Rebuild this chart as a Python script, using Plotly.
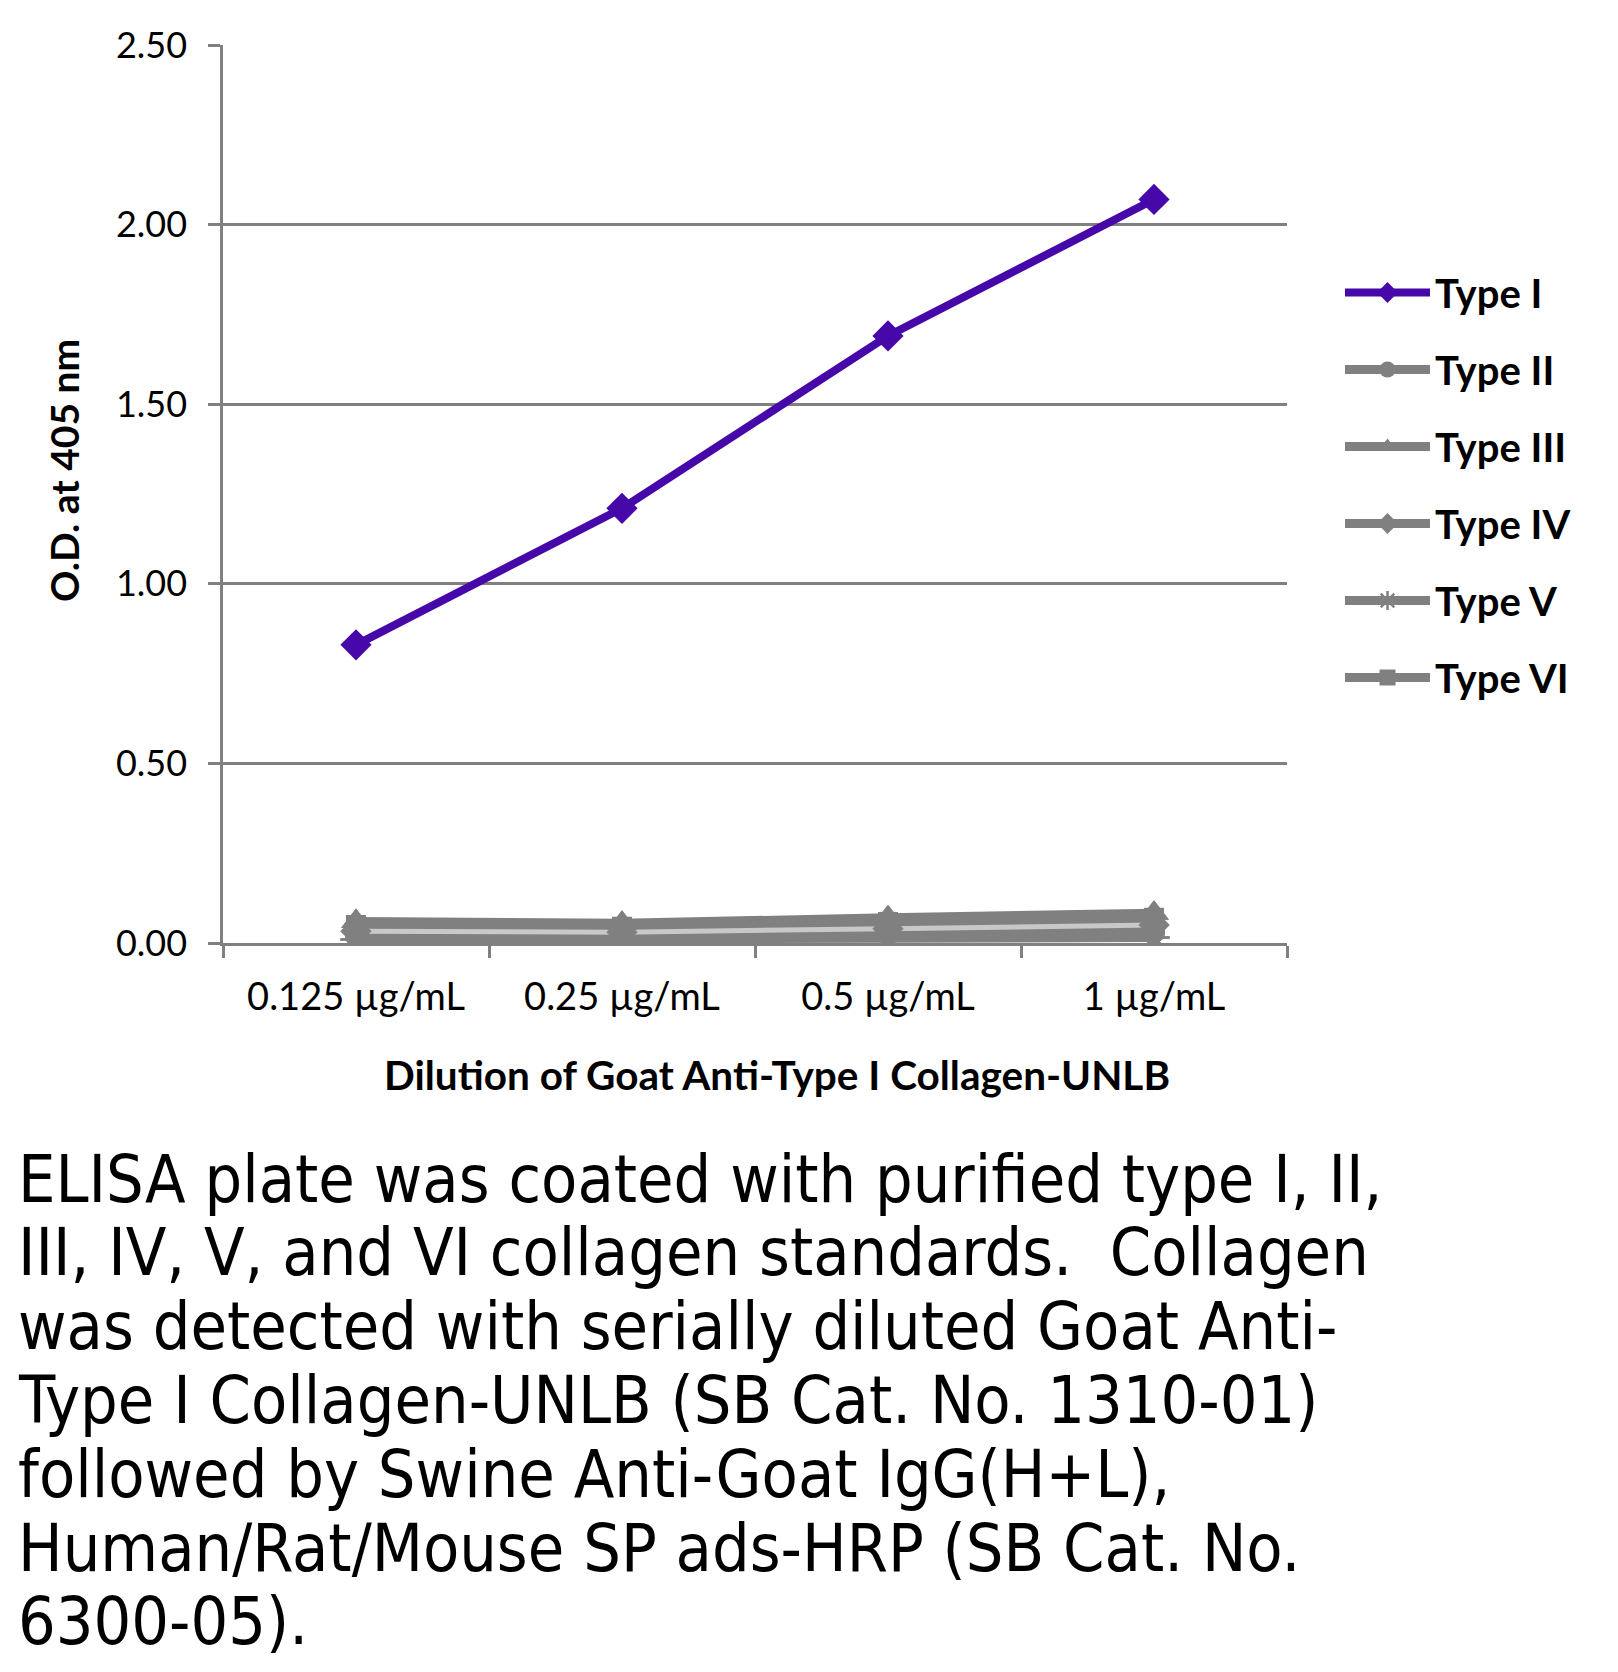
import plotly.graph_objects as go

categories = ["0.125 µg/mL", "0.25 µg/mL", "0.5 µg/mL", "1 µg/mL"]
type_i = [0.83, 1.21, 1.69, 2.07]
type_ii = [0.02, 0.02, 0.025, 0.03]
type_iii = [0.06, 0.055, 0.07, 0.083]
type_iv = [0.033, 0.03, 0.04, 0.05]
type_v = [0.01, 0.01, 0.012, 0.015]
type_vi = [0.05, 0.045, 0.058, 0.07]
y_ticks = [0.0, 0.5, 1.0, 1.5, 2.0, 2.5]

caption_lines = [
    "ELISA plate was coated with purified type I, II,",
    "III, IV, V, and VI collagen standards.  Collagen",
    "was detected with serially diluted Goat Anti-",
    "Type I Collagen-UNLB (SB Cat. No. 1310-01)",
    "followed by Swine Anti-Goat IgG(H+L),",
    "Human/Rat/Mouse SP ads-HRP (SB Cat. No.",
    "6300-05).",
]

W, H = 1618, 1672
L, R, T, B = 223, 1287, 45, 943
PW, PH = R - L, B - T

def px(x):
    return (x - L) / PW

def py(y):
    return (B - y) / PH

PURPLE = "#4608A8"
GRAY = "#808080"

series = [
    ("Type I", type_i, PURPLE, "diamond", 24),
    ("Type II", type_ii, GRAY, "circle", 22),
    ("Type III", type_iii, GRAY, "triangle-up", 26),
    ("Type IV", type_iv, GRAY, "diamond", 24),
    ("Type V", type_v, GRAY, "asterisk-open", 26),
    ("Type VI", type_vi, GRAY, "square", 20),
]

def marker(col, sym, sz):
    return dict(symbol=sym, size=sz, color=col,
                line=dict(color=col, width=2.5 if sym == "asterisk-open" else 0))

fig = go.Figure()

# gray series (lines + markers, legend entries)
for i, (name, vals, col, sym, sz) in enumerate(series[1:], start=1):
    fig.add_trace(go.Scatter(
        x=categories, y=vals, name=name, mode="lines+markers",
        line=dict(color=col, width=9),
        marker=marker(col, sym, sz),
        legendgroup=name, legendrank=i + 1,
    ))

# lighter highlight stroke inside the gray band
fig.add_trace(go.Scatter(
    x=categories, y=type_iv, mode="lines", showlegend=False, hoverinfo="skip",
    line=dict(color="#C8C8C8", width=5),
))

# gray markers re-drawn on top of the highlight
for name, vals, col, sym, sz in series[1:]:
    fig.add_trace(go.Scatter(
        x=categories, y=vals, mode="markers", showlegend=False, hoverinfo="skip",
        marker=marker(col, sym, sz), legendgroup=name,
    ))

# Type I on top
name, vals, col, sym, sz = series[0]
fig.add_trace(go.Scatter(
    x=categories, y=vals, name=name, mode="lines+markers",
    line=dict(color=col, width=8), marker=marker(col, sym, sz),
    legendgroup=name, legendrank=1,
))

fig.update_layout(
    width=W, height=H,
    margin=dict(l=L, r=W - R, t=T, b=H - B),
    paper_bgcolor="white", plot_bgcolor="white",
    font=dict(family="Lato", color="black"),
    showlegend=True,
    legend=dict(
        x=px(1340), y=py(260), xanchor="left", yanchor="top",
        font=dict(family="Lato", size=40, weight="bold", color="black"),
        itemwidth=85, tracegroupgap=22, traceorder="grouped",
        bgcolor="rgba(0,0,0,0)",
    ),
    xaxis=dict(
        type="category", tickson="boundaries", ticks="outside", ticklen=12,
        tickwidth=2.5, tickcolor=GRAY, showline=True, linecolor=GRAY, linewidth=2.5,
        showgrid=False, tickfont=dict(family="Lato", size=38, color="black"),
        range=[-0.5, 3.5], ticklabelstandoff=19,
    ),
    yaxis=dict(
        range=[0, 2.5], tickvals=y_ticks, tickformat=".2f", ticks="outside",
        ticklen=12, tickwidth=2.5, tickcolor=GRAY, showline=True, linecolor=GRAY,
        linewidth=2.5, showgrid=True, gridcolor=GRAY, gridwidth=2.5,
        zeroline=False, tickfont=dict(family="Lato", size=36, color="black"),
        ticklabelstandoff=14,
    ),
)

fig.add_annotation(
    text="O.D. at 405 nm", xref="paper", yref="paper",
    x=px(64), y=py(471), xanchor="center", yanchor="middle", textangle=-90,
    showarrow=False, font=dict(family="Lato", size=39, weight="bold", color="black"),
)
fig.add_annotation(
    text="Dilution of Goat Anti-Type I Collagen-UNLB", xref="paper", yref="paper",
    x=px(777), y=py(1074), xanchor="center", yanchor="middle",
    showarrow=False, font=dict(family="Lato", size=40.5, weight="bold", color="black"),
)

base0 = 1201
step = 73.8
for k, line in enumerate(caption_lines):
    baseline = base0 + k * step
    fig.add_annotation(
        text=line, xref="paper", yref="paper",
        x=px(16), y=py(baseline - 22), xanchor="left", yanchor="middle",
        showarrow=False,
        font=dict(family="Liberation Sans Narrow, DejaVu Sans Condensed, Lato", size=66, color="black"),
    )

fig.write_html("out.html", config={"displayModeBar": False},
               post_script="document.body.style.margin='0px';")
